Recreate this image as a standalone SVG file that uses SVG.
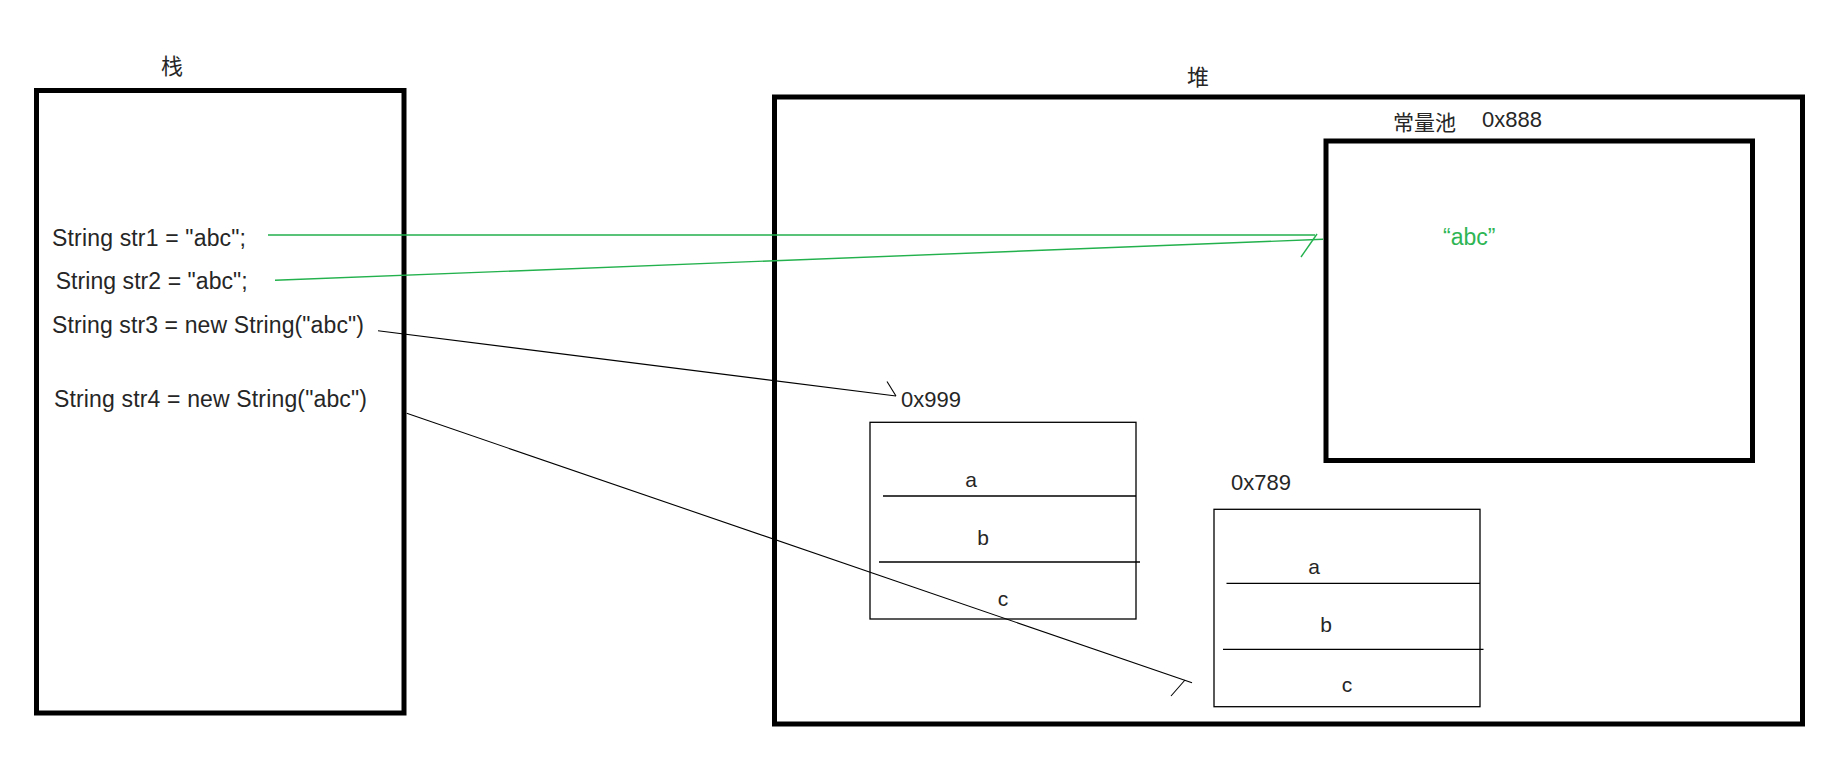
<svg xmlns="http://www.w3.org/2000/svg" width="1844" height="765" viewBox="0 0 1844 765">
<style>
text{font-family:"Liberation Sans","Noto Sans CJK SC",sans-serif;fill:#262626}
.code{font-size:23px}
.addr{font-size:22px}
.cjk{font-family:"Noto Sans CJK SC","Liberation Sans",sans-serif;font-size:21px}
.fld{font-size:21px;text-anchor:middle}
.thick{fill:none;stroke:#000;stroke-width:5}
.thin{fill:none;stroke:#000;stroke-width:1.3}
.g{stroke:#22b14c;stroke-width:1.4;fill:none}
.k{stroke:#000;stroke-width:1.1;fill:none}
</style>
<rect width="1844" height="765" fill="#fff"/>
<g id="stack">
<rect class="thick" x="36.5" y="90.5" width="367.5" height="622.5"/>
<text class="cjk" x="161" y="74" style="font-size:22px">栈</text>
<text class="code" x="52" y="245.5" textLength="194" lengthAdjust="spacing">String str1 = "abc";</text>
<text class="code" x="55.7" y="289" textLength="192" lengthAdjust="spacing">String str2 = "abc";</text>
<text class="code" x="52" y="333" textLength="312" lengthAdjust="spacing">String str3 = new String("abc")</text>
<text class="code" x="54" y="407" textLength="313" lengthAdjust="spacing">String str4 = new String("abc")</text>
</g>
<g id="heap">
<rect class="thick" x="774.5" y="97" width="1028" height="627"/>
<text class="cjk" x="1187" y="85" style="font-size:22px">堆</text>
</g>
<g id="pool">
<rect class="thick" x="1326" y="141" width="426.5" height="319.5"/>
<text class="cjk" x="1393" y="130">常量池</text>
<text class="addr" x="1482" y="127">0x888</text>
<text class="code" x="1443" y="245" style="fill:#2eb554">“abc”</text>
</g>
<g id="obj999">
<text class="addr" x="901" y="407">0x999</text>
<rect class="thin" x="870" y="422.3" width="266" height="196.7"/>
<line class="thin" x1="883" y1="496" x2="1136" y2="496"/>
<line class="thin" x1="879" y1="562" x2="1140" y2="562"/>
<text class="fld" x="971" y="486.7">a</text>
<text class="fld" x="983" y="545">b</text>
<text class="fld" x="1003" y="606">c</text>
</g>
<g id="obj789">
<text class="addr" x="1231" y="490">0x789</text>
<rect class="thin" x="1214" y="509.3" width="266" height="197.4"/>
<line class="thin" x1="1226.5" y1="583.3" x2="1480" y2="583.3"/>
<line class="thin" x1="1223" y1="649.3" x2="1483.5" y2="649.3"/>
<text class="fld" x="1314" y="574.3">a</text>
<text class="fld" x="1326" y="631.7">b</text>
<text class="fld" x="1347" y="691.7">c</text>
</g>
<g id="connectors">
<line class="g" x1="268" y1="235" x2="1315" y2="235"/>
<line class="g" x1="1317" y1="234" x2="1301" y2="257"/>
<line class="g" x1="275" y1="280.3" x2="1323" y2="239.3"/>
<line class="k" x1="378" y1="330.7" x2="896" y2="396"/>
<line class="k" x1="887" y1="381.5" x2="896" y2="396"/>
<line class="k" x1="406.7" y1="413.3" x2="1192" y2="682.7"/>
<line class="k" x1="1185" y1="680" x2="1171" y2="696"/>
</g>
</svg>
